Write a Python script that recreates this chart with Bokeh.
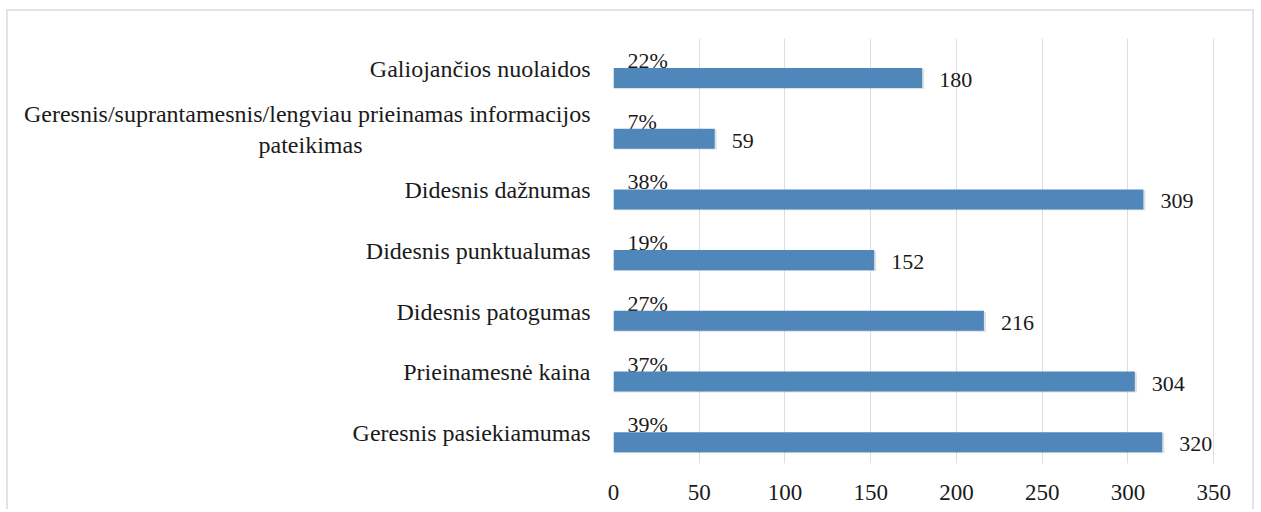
from bokeh.plotting import figure
from bokeh.models import ColumnDataSource, FactorRange, Range1d, FixedTicker
from bokeh.transform import dodge
from bokeh.core.properties import value
from bokeh.embed import file_html
from bokeh.resources import INLINE

categories = [
    "Geresnis pasiekiamumas",
    "Prieinamesnė kaina",
    "Didesnis patogumas",
    "Didesnis punktualumas",
    "Didesnis dažnumas",
    "Geresnis/suprantamesnis/lengviau prieinamas informacijos pateikimas",
    "Galiojančios nuolaidos",
]
counts = [320, 304, 216, 152, 309, 59, 180]
percents = ["39%", "37%", "27%", "19%", "38%", "7%", "22%"]
x_ticks = [0, 50, 100, 150, 200, 250, 300, 350]

FONT = "Liberation Serif"
TXT = "#1a1a1a"


def wrap(c):
    # long label on two lines; padding keeps the short second line centred
    if len(c) > 50:
        head, tail = c.rsplit(" ", 1)
        return head + "\n" + tail + "\u00a0" * 38
    return c


factors = [wrap(c) for c in categories]

src = ColumnDataSource(dict(
    cat=factors,
    cnt=counts,
    pct=percents,
    lbl=[str(c) for c in counts],
    zero=[0] * len(counts),
))

x_end = x_ticks[-1] * 1.053

p = figure(
    width=1248, height=500,
    y_range=FactorRange(*factors, range_padding=0),
    x_range=Range1d(0, x_end),
    output_backend="svg", toolbar_location=None,
    min_border_left=605, min_border_right=11,
    min_border_top=27, min_border_bottom=48,
)
p.styles = {
    "margin-left": "6px",
    "margin-top": "9px",
    "border-top": "2px solid #dfe3eb",
    "border-left": "2px solid #dfe3eb",
    "border-right": "2px solid #dfe3eb",
}
p.outline_line_color = None
p.background_fill_color = "white"
p.border_fill_color = "white"

p.xgrid.grid_line_color = "#d9dee8"
p.xgrid.grid_line_width = 1
p.ygrid.grid_line_color = None

p.xaxis.ticker = FixedTicker(ticks=x_ticks)
p.xaxis.axis_line_color = None
p.xaxis.major_tick_line_color = None
p.xaxis.minor_tick_line_color = None
p.xaxis.major_label_standoff = 15
p.xaxis.major_label_text_font = FONT
p.xaxis.major_label_text_font_size = "23px"
p.xaxis.major_label_text_color = TXT

p.yaxis.axis_line_color = None
p.yaxis.major_tick_line_color = None
p.yaxis.minor_tick_line_color = None
p.yaxis.major_label_standoff = 17
p.yaxis.major_label_text_font = FONT
p.yaxis.major_label_text_font_size = "24px"
p.yaxis.major_label_text_color = TXT

# percentage labels (drawn before bars so bar overlaps their bottom)
p.text(x="zero", y=dodge("cat", 0.015, range=p.y_range), text="pct", source=src,
       x_offset=14, y_offset=5, text_baseline="bottom", text_align="left",
       text_font=value(FONT), text_font_size="22px", text_color=TXT)

# shadow
p.hbar(y=dodge("cat", -0.165, range=p.y_range), left="zero",
       right=dodge("cnt", 1.2), height=0.33, source=src,
       fill_color="#000000", fill_alpha=0.12, line_color=None)
# bars
p.hbar(y=dodge("cat", -0.15, range=p.y_range), left="zero", right="cnt",
       height=0.33, source=src, fill_color="#4f87bb", line_color=None)

# value labels
p.text(x="cnt", y=dodge("cat", -0.15, range=p.y_range), text="lbl", source=src,
       x_offset=17, y_offset=2, text_baseline="middle", text_align="left",
       text_font=value(FONT), text_font_size="22px", text_color=TXT)

open("out.html", "w").write(file_html(p, INLINE))
